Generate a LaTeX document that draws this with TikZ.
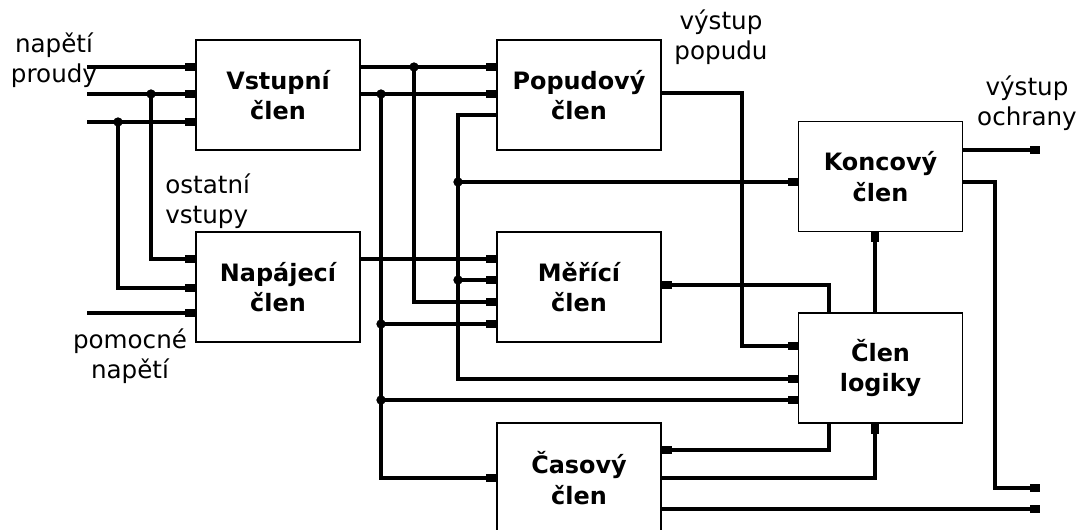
\documentclass[tikz,border=0pt]{standalone}
\usepackage{fontspec}
\setmainfont{DejaVu Sans}
\usetikzlibrary{arrows.meta}
\begin{document}
\begin{tikzpicture}[x=0.025cm,y=-0.025cm,
  blk/.style={draw,line width=1.1pt,minimum width=4.1cm,minimum height=2.75cm,align=center,
    font=\fontsize{17}{21.5}\selectfont\bfseries,inner sep=0pt},
  lbl/.style={inner sep=0pt,font=\fontsize{17.5}{21.5}\selectfont},
  wire/.style={line width=2.4pt},
  arr/.style={wire,-{Rectangle[length=7pt,width=5pt]}},
  dot/.style={circle,fill,inner sep=0pt,minimum size=6pt}
]
\useasboundingbox (0,0) rectangle (1089,530);
\fill[white] (0,0) rectangle (1089,530);
\clip (0,0) rectangle (1089,530);

% blocks
\node[blk] (vst) at (278,95) {Vstupní\\člen};
\node[blk] (pop) at (579,95) {Popudový\\člen};
\node[blk] (nap) at (278,287) {Napájecí\\člen};
\node[blk] (mer) at (579,287) {Měřící\\člen};
\node[blk] (cas) at (579,478) {Časový\\člen};
\node[blk] (kon) at (880.5,176.5) {Koncový\\člen};
\node[blk] (log) at (880.5,368) {Člen\\logiky};

% labels
\node[lbl,align=center] (l1) at (54,60) {napětí\\proudy};
\node[lbl,align=left,anchor=west] (l2) at (165,201) {ostatní\\vstupy};
\node[lbl,align=center] (l3) at (130,356) {pomocné\\napětí};
\node[lbl,align=center] (l4) at (721,37) {výstup\\popudu};
\node[lbl,align=center] (l5) at (1027,103) {výstup\\ochrany};

% free ends
\coordinate (i1) at (87,67);
\coordinate (i2) at (87,94);
\coordinate (i3) at (87,122);
\coordinate (i4) at (87,313);
\coordinate (o1) at (1040,150);
\coordinate (o2) at (1040,488);
\coordinate (o3) at (1040,509);

% junction dots
\node[dot] (j1) at (151,94) {};
\node[dot] (j2) at (118,122) {};
\node[dot] (j3) at (414,67) {};
\node[dot] (j4) at (381,94) {};
\node[dot] (j5) at (381,324) {};
\node[dot] (j6) at (381,400) {};
\node[dot] (j7) at (458,182) {};
\node[dot] (j8) at (458,280) {};

% inputs
\draw[arr] (i1) -- (vst.west |- i1);
\draw[arr] (i2) -- (vst.west |- i2);
\draw[arr] (i3) -- (vst.west |- i3);
\draw[arr] (i4) -- (nap.west |- i4);
\draw[arr] (j1.center) |- (nap.west |- 0,259);
\draw[arr] (j2.center) |- (nap.west |- 0,288);

% Vstupni outputs
\draw[arr] (vst.east |- 0,67) -- (pop.west |- 0,67);
\draw[arr] (vst.east |- 0,94) -- (pop.west |- 0,94);
\draw[arr] (j3.center) |- (mer.west |- 0,302);
\draw[arr] (j4.center) |- (cas.west |- 0,478);
\draw[arr] (j5.center) -- (mer.west |- j5);
\draw[arr] (j6.center) -- (log.west |- j6);

% Napajeci output
\draw[arr] (nap.east |- 0,259) -- (mer.west |- 0,259);

% Popudovy outputs
\draw[arr] (pop.west |- 0,115) -| (458,379) -- (log.west |- 0,379);
\draw[arr] (j7.center) -- (kon.west |- j7);
\draw[arr] (j8.center) -- (mer.west |- j8);
\draw[arr] (pop.east |- 0,93) -| (742,346) -- (log.west |- 0,346);

% Logiky
\draw[arr] (log.north -| 829,0) |- (mer.east |- 0,285);
\draw[arr] (log.south -| 829,0) |- (cas.east |- 0,450);
\draw[arr] (log.north -| 875,0) -- (kon.south -| 875,0);

% Casovy
\draw[arr] (cas.east |- 0,478) -| (log.south -| 875,0);
\draw[arr] (cas.east |- o3) -- (o3);

% Koncovy
\draw[arr] (kon.east |- o1) -- (o1);
\draw[arr] (kon.east |- 0,182) -| (995,488) -- (o2);

% dots on top
\foreach \j in {j1,j2,j3,j4,j5,j6,j7,j8} \fill (\j) circle (3.3pt);
\end{tikzpicture}
\end{document}
